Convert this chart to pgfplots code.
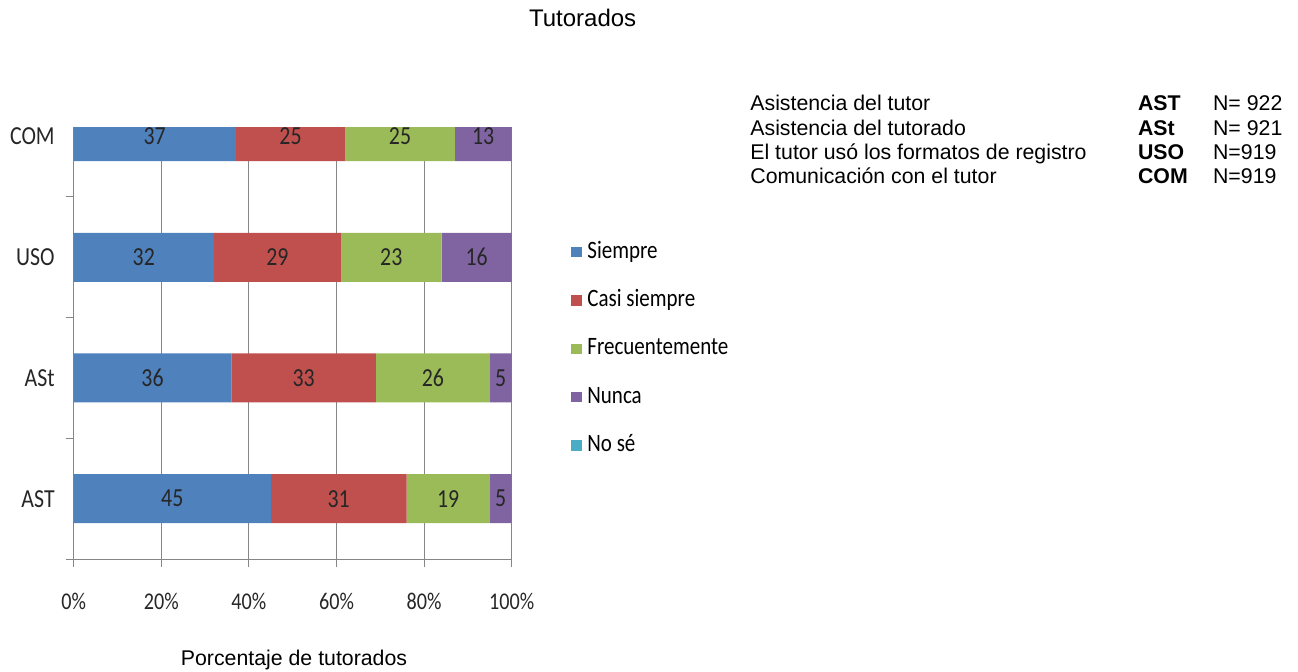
\documentclass[border=0pt]{standalone}
\usepackage{pgfplots}
\pgfplotsset{compat=1.18}
\usepackage{fontspec}
\setmainfont{Liberation Sans}
\newfontfamily\calibri[FakeStretch=0.84]{Carlito}
\newcommand\calfont{\calibri\fontsize{12}{14}\selectfont}
\newcommand\calbig{\calibri\fontsize{13}{15}\selectfont}
\newcommand\arialfont{\fontsize{10.65}{12}\selectfont}

\definecolor{cSiempre}{HTML}{4F81BD}
\definecolor{cCasi}{HTML}{C0504D}
\definecolor{cFrec}{HTML}{9BBB59}
\definecolor{cNunca}{HTML}{8064A2}
\definecolor{cNose}{HTML}{4BACC6}
\definecolor{axisgray}{HTML}{868686}

\begin{document}
\begin{tikzpicture}[x=0.5pt,y=0.5pt]
% frame in reference pixels, origin at lower left of the plot area
\useasboundingbox (-73.7,-112) rectangle (1224.3,559);
\begin{axis}[
    at={(0pt,0pt)}, anchor=south west,
    scale only axis,
    width=219pt, height=215.85pt,
    xbar stacked,
    bar width=0.406,
    xmin=0, xmax=100,
    ymin=-0.5, ymax=3.077,
    axis lines=left,
    axis line style={-, draw=axisgray, line width=0.5pt},
    tick align=outside,
    major tick length=4pt,
    tick style={draw=axisgray, line width=0.5pt},
    xtick={0,20,40,60,80,100},
    xticklabels={0\%,20\%,40\%,60\%,80\%,100\%},
    ytick={-0.5,0.5,1.5,2.5},
    yticklabels={},
    extra y ticks={0,1,2,3},
    extra y tick labels={AST,ASt,USO,COM},
    extra y tick style={major tick length=0pt, yticklabel style={anchor=east, xshift=-6pt, font=\calbig}},
    xmajorgrids,
    major grid style={draw=axisgray, line width=0.5pt},
    ticklabel style={font=\calfont, text=black!85},
    xticklabel style={anchor=base, yshift=-21pt},
    title={Tutorados},
    title style={at={(axis description cs:1.162,1.205)}, anchor=base, font=\fontsize{12}{14}\selectfont},
    xlabel={Porcentaje de tutorados},
    xlabel style={at={(axis description cs:0.503,0)}, anchor=base, yshift=-53pt, font=\arialfont},
    /pgf/number format/assume math mode=true,
    visualization depends on=rawx \as \rawx,
    nodes near coords={\pgfmathprintnumber{\rawx}},
    every node near coord/.append style={anchor=center, font=\calbig, text=black!85},
    legend image code/.code={\fill[#1] (0pt,-2.6pt) rectangle (5.3pt,2.6pt);},
    legend cell align=left,
    legend style={draw=none, fill=none, inner sep=0pt, at={(rel axis cs:1.1354,0.7373)}, anchor=north west,
        font=\calibri\fontsize{12.5}{14}\selectfont, row sep=13.15pt, column sep=2.7pt,
        nodes={inner sep=0pt, text height=8.5pt, text depth=2.5pt}},
]
\addplot[fill=cSiempre, draw=none] coordinates {(45,0) (36,1) (32,2) (37,3)};
\addlegendentry{Siempre}
\addplot[fill=cCasi, draw=none] coordinates {(31,0) (33,1) (29,2) (25,3)};
\addlegendentry{Casi siempre}
\addplot[fill=cFrec, draw=none] coordinates {(19,0) (26,1) (23,2) (25,3)};
\addlegendentry{Frecuentemente}
\addplot[fill=cNunca, draw=none] coordinates {(5,0) (5,1) (16,2) (13,3)};
\addlegendentry{Nunca}
\addlegendimage{fill=cNose, draw=none}
\addlegendentry{No sé}
\end{axis}

% key to the abbreviations
\begin{scope}[every node/.style={anchor=base west, inner sep=0pt, font=\arialfont}]
\node at (676.3,448.3) {Asistencia del tutor};
\node at (676.3,423.9) {Asistencia del tutorado};
\node at (676.3,399.5) {El tutor usó los formatos de registro};
\node at (676.3,375.1) {Comunicación con el tutor};
\node at (1064,448.3) {\bfseries AST};
\node at (1064,423.9) {\bfseries ASt};
\node at (1064,399.5) {\bfseries USO};
\node at (1064,375.1) {\bfseries COM};
\node at (1139,448.3) {N= 922};
\node at (1139,423.9) {N= 921};
\node at (1139,399.5) {N=919};
\node at (1139,375.1) {N=919};
\end{scope}
\end{tikzpicture}
\end{document}
